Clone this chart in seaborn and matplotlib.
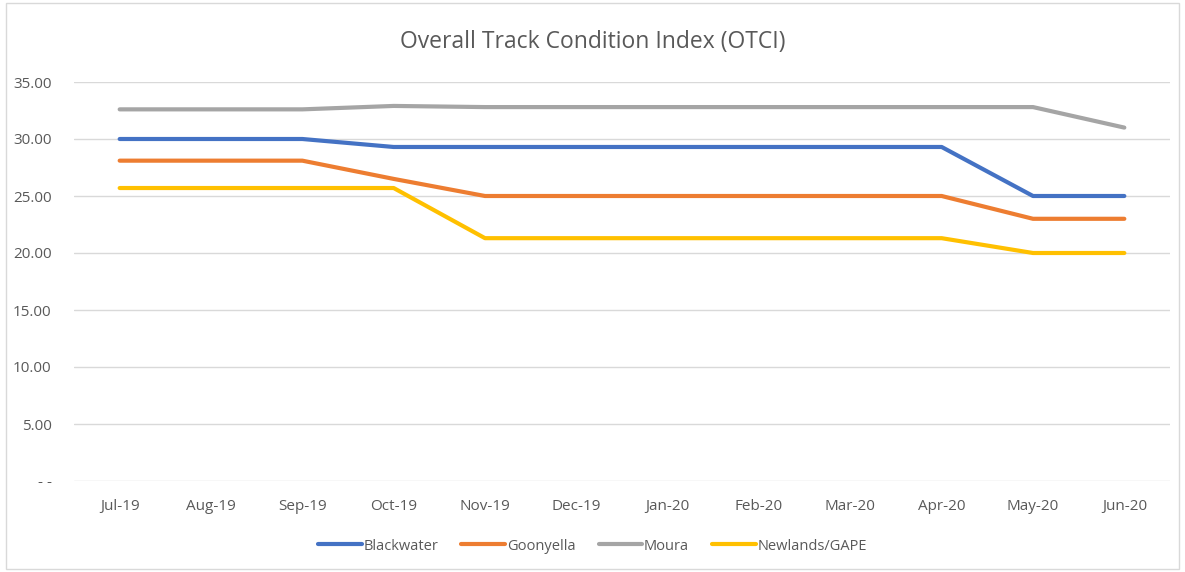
import matplotlib
matplotlib.use('Agg')
import matplotlib.pyplot as plt
import seaborn as sns
import pandas as pd
from matplotlib.patches import Rectangle

months = ['Jul-19', 'Aug-19', 'Sep-19', 'Oct-19', 'Nov-19', 'Dec-19',
          'Jan-20', 'Feb-20', 'Mar-20', 'Apr-20', 'May-20', 'Jun-20']
blackwater = [30.0, 30.0, 30.0, 29.3, 29.3, 29.3, 29.3, 29.3, 29.3, 29.3, 25.0, 25.0]
goonyella = [28.1, 28.1, 28.1, 26.5, 25.0, 25.0, 25.0, 25.0, 25.0, 25.0, 23.0, 23.0]
moura = [32.6, 32.6, 32.6, 32.9, 32.8, 32.8, 32.8, 32.8, 32.8, 32.8, 32.8, 31.0]
newlands = [25.7, 25.7, 25.7, 25.7, 21.3, 21.3, 21.3, 21.3, 21.3, 21.3, 20.0, 20.0]
systems = ['Blackwater', 'Goonyella', 'Moura', 'Newlands/GAPE']
colors = ['#4472C4', '#ED7D31', '#A5A5A5', '#FFC000']

df = pd.DataFrame({
    'Month': months * 4,
    'x': list(range(len(months))) * 4,
    'OTCI': blackwater + goonyella + moura + newlands,
    'System': [s for s in systems for _ in months],
})

sns.set_style('white')
plt.rcParams['font.family'] = ['Open Sans', 'DejaVu Sans']

fig = plt.figure(figsize=(11.85, 5.72), dpi=100)
ax = fig.add_axes([74 / 1185, 1 - 481 / 572, 1096 / 1185, 399 / 572])

sns.lineplot(data=df, x='x', y='OTCI', hue='System', palette=colors,
             linewidth=3, ax=ax, legend=False, solid_joinstyle='round',
             solid_capstyle='round')

ax.set_xlim(-0.5, 11.5)
ax.set_ylim(0, 35)
ax.set_yticks(range(0, 36, 5))
ax.set_yticklabels(['- -' if v == 0 else f'{v:.2f}' for v in range(0, 36, 5)])
ax.set_xticks(range(len(months)))
ax.set_xticklabels(months)
ax.yaxis.grid(True, color='#D9D9D9', linewidth=1)
ax.set_axisbelow(True)
for s in ax.spines.values():
    s.set_visible(False)
ax.tick_params(axis='both', length=0, labelsize=11, labelcolor='#595959')
ax.tick_params(axis='x', pad=13)
ax.tick_params(axis='y', pad=16)
ax.set_xlabel('')
ax.set_ylabel('')

fig.text(0.5, 1 - 42 / 572, 'Overall Track Condition Index (OTCI)',
         ha='center', va='center', fontsize=16.5, color='#595959')

handles = [plt.Line2D([], [], color=c, linewidth=3) for c in colors]
fig.legend(handles, systems, loc='center', bbox_to_anchor=(0.5, 1 - 546 / 572),
           ncol=4, frameon=False, fontsize=10.5, labelcolor='#595959',
           handlelength=3, handletextpad=0.1, columnspacing=1.6)

fig.patches.append(Rectangle((6 / 1185, 3 / 572), 1173 / 1185, 566 / 572,
                             transform=fig.transFigure, fill=False,
                             edgecolor='#D9D9D9', linewidth=1))

fig.savefig('out.png', dpi=100)
